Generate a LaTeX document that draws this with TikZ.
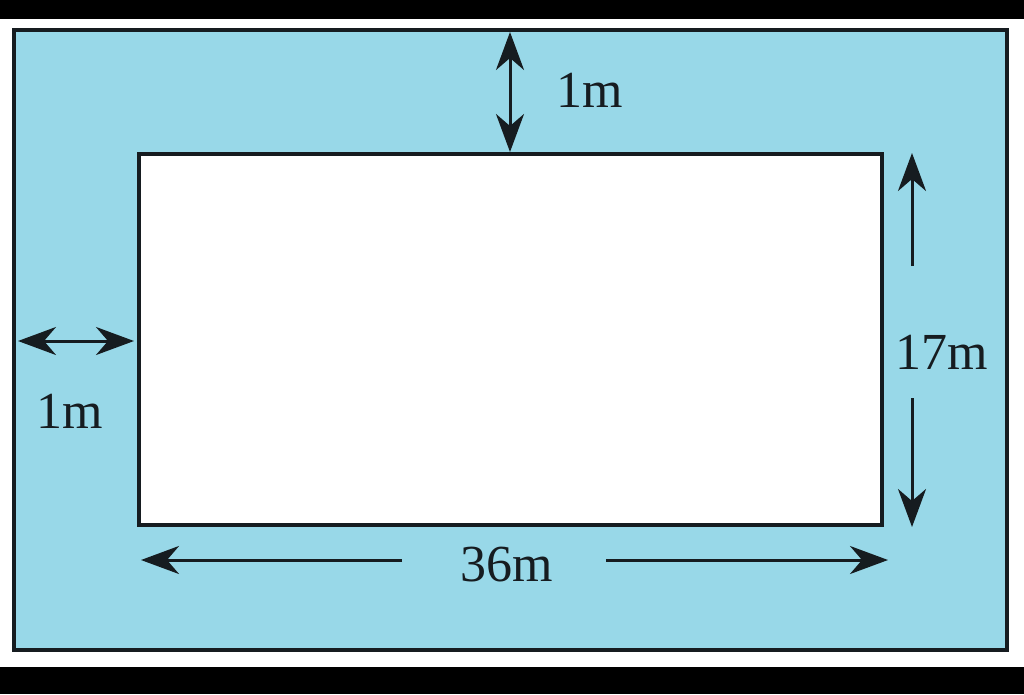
\documentclass[tikz,border=0pt]{standalone}
\usepackage{fontspec}
\setmainfont{Liberation Serif}
\usetikzlibrary{arrows.meta}
\definecolor{pool}{RGB}{152,216,232}
\definecolor{edge}{RGB}{22,28,32}
\tikzset{
  frame/.style={draw=edge, line width=4.5pt},
  tip/.style={},
  dim/.style={draw=edge, line width=3pt, -{Stealth[length=38pt,width=28pt,inset=12pt]}},
  dimboth/.style={draw=edge, line width=3pt, {Stealth[length=38pt,width=28pt,inset=12pt]}-{Stealth[length=38pt,width=28pt,inset=12pt]}},
  lbl/.style={font=\fontsize{52}{60}\selectfont, text=edge, inner sep=0pt}
}
\begin{document}
\begin{tikzpicture}[x=1pt,y=-1pt]
\useasboundingbox (0,0) rectangle (1024,694);
\fill[white] (0,0) rectangle (1024,694);
\fill[black] (0,0) rectangle (1024,19);
\fill[black] (0,667) rectangle (1024,694);
% outer and inner rectangles
\draw[frame, fill=pool] (14,30) rectangle (1007,650);
\draw[frame, fill=white] (139,154) rectangle (882,525);
\coordinate (outertop) at (510,32);
\coordinate (innertop) at (510,152);
\coordinate (outerleft) at (18,341);
\coordinate (innerleft) at (134,341);
\coordinate (r1) at (912,266);
\coordinate (r2) at (912,153);
\coordinate (r3) at (912,398);
\coordinate (r4) at (912,527);
\coordinate (b1) at (402,560);
\coordinate (b2) at (141,560);
\coordinate (b3) at (606,560);
\coordinate (b4) at (888,560);
\draw[dimboth] (outertop) -- (innertop);
\draw[dimboth] (outerleft) -- (innerleft);
\draw[dim] (r1) -- (r2);
\draw[dim] (r3) -- (r4);
\draw[dim] (b1) -- (b2);
\draw[dim] (b3) -- (b4);
\node[lbl] (ltop) at (590,90) {1m};
\node[lbl] (lleft) at (70,411) {1m};
\node[lbl] (lright) at (942,352) {17m};
\node[lbl] (lbottom) at (507,565) {36m};
\end{tikzpicture}
\end{document}
